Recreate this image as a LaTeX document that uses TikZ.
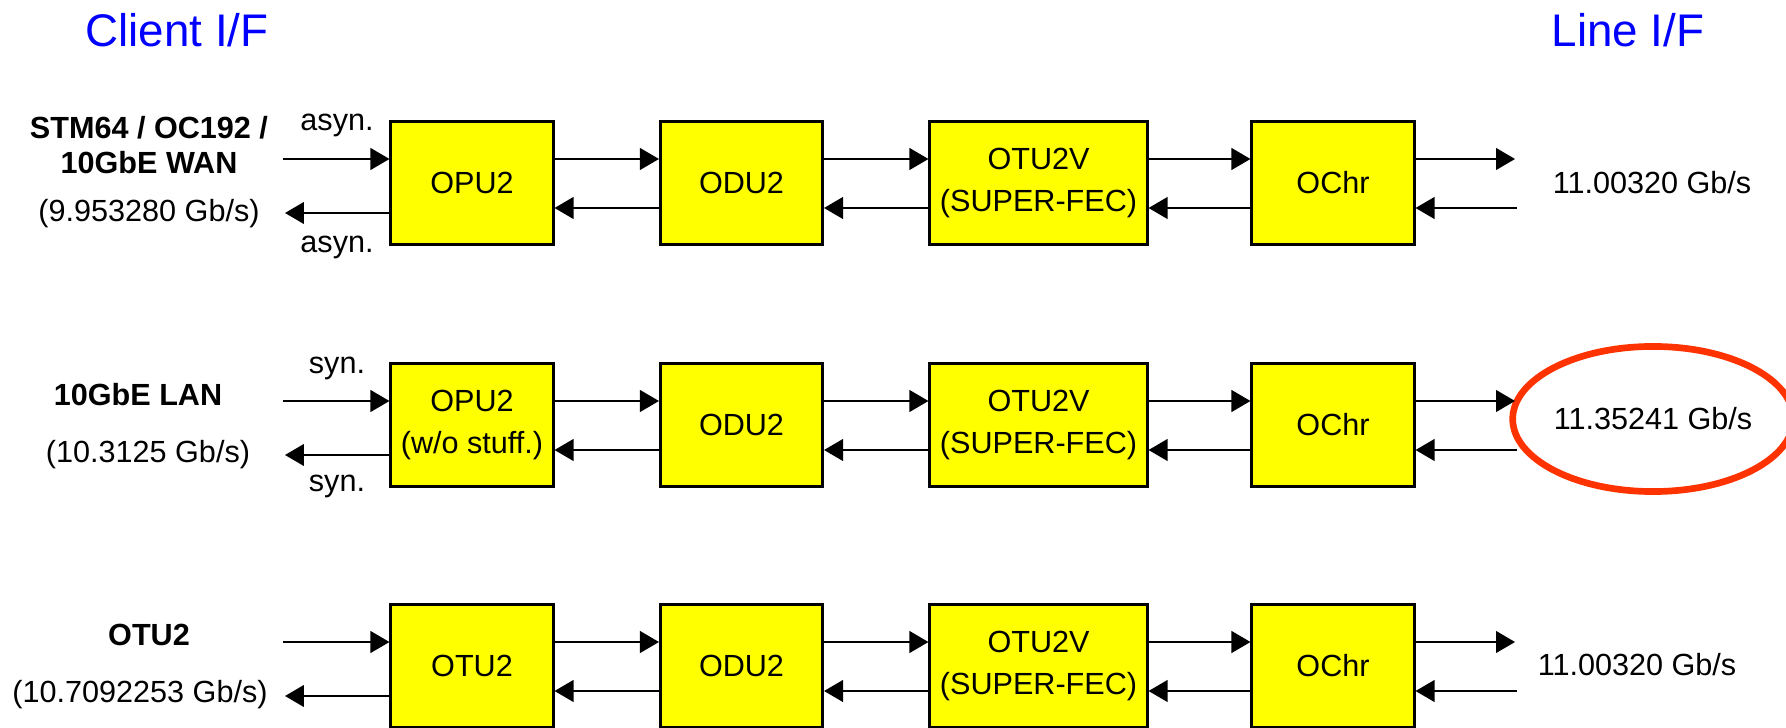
\documentclass[tikz,border=0pt]{standalone}
\usepackage{fontspec}
\setmainfont{Liberation Sans}
\usepackage{tikz}
\usetikzlibrary{arrows.meta,positioning,calc,shapes.geometric}
\definecolor{ifBlue}{RGB}{0,0,255}
\definecolor{blockYellow}{RGB}{255,255,0}
\definecolor{markRed}{RGB}{255,51,0}
\tikzset{
  blk/.style={draw=black, fill=blockYellow, line width=0.85pt,
              minimum width=1.62cm, minimum height=1.22cm, inner sep=0pt,
              align=center, font=\fontsize{8.7}{11.7}\selectfont},
  wideblk/.style={blk, minimum width=2.17cm},
  rate/.style={inner sep=0pt, align=center, font=\fontsize{8.7}{10.5}\selectfont},
  client/.style={inner sep=0pt, align=center, font=\fontsize{8.7}{9.8}\selectfont\bfseries},
  iftitle/.style={inner sep=0pt, text=ifBlue, font=\fontsize{13}{15}\selectfont},
  flow/.style={-{Triangle[length=5.4pt,width=6.2pt]}, line width=0.45pt, draw=black}
}
\begin{document}
\begin{tikzpicture}[x=0.01cm, y=-0.01cm]
  \useasboundingbox (0,0) rectangle (1786,728);
  % Interface titles
  \node[iftitle] (client) at (177,30) {Client I/F};
  \node[iftitle] (line) at (1628,30) {Line I/F};

  % Row 1: STM64 / OC192 / 10GbE WAN
  \node[blk] (opuA) at (472,183) {OPU2};
  \node[blk] (oduA) at (741.5,183) {ODU2};
  \node[wideblk] (otuA) at (1038.5,183) {OTU2V\\(SUPER-FEC)};
  \node[blk] (ochA) at (1333,183) {OChr};
  \node[client] (cliA) at (149,145) {STM64 / OC192 /\\10GbE WAN};
  \node[rate] (rateA) at (149,214) {(9.953280 Gb/s)};
  \node[rate] (asynI) at (337,125) {asyn.};
  \node[rate] (asynO) at (337,247) {asyn.};
  \node[rate] (lineA) at (1652,183) {11.00320 Gb/s};
  \coordinate (inA) at (283,159);
  \coordinate (outA) at (285,213);
  \coordinate (txA) at (1515,159);
  \coordinate (rxA) at (1517,208);
  \draw[flow] (inA) -- (inA -| opuA.west);
  \draw[flow] (opuA.west |- outA) -- (outA);
  \draw[flow] (opuA.east |- inA) -- (oduA.west |- inA);
  \draw[flow] (oduA.east |- inA) -- (otuA.west |- inA);
  \draw[flow] (otuA.east |- inA) -- (ochA.west |- inA);
  \draw[flow] (ochA.east |- inA) -- (txA);
  \draw[flow] (rxA) -- (ochA.east |- rxA);
  \draw[flow] (ochA.west |- rxA) -- (otuA.east |- rxA);
  \draw[flow] (otuA.west |- rxA) -- (oduA.east |- rxA);
  \draw[flow] (oduA.west |- rxA) -- (opuA.east |- rxA);

  % Row 2: 10GbE LAN
  \node[blk] (opuB) at (472,425) {OPU2\\(w/o stuff.)};
  \node[blk] (oduB) at (741.5,425) {ODU2};
  \node[wideblk] (otuB) at (1038.5,425) {OTU2V\\(SUPER-FEC)};
  \node[blk] (ochB) at (1333,425) {OChr};
  \node[client] (cliB) at (138,395) {10GbE LAN};
  \node[rate] (rateB) at (148,455) {(10.3125 Gb/s)};
  \node[rate] (synI) at (337,368) {syn.};
  \node[rate] (synO) at (337,486) {syn.};
  \node[rate, ellipse, draw=markRed, line width=1.9pt,
        minimum width=2.57cm, minimum height=1.45cm] (lineB) at (1653,419) {11.35241 Gb/s};
  \coordinate (inB) at (283,401);
  \coordinate (outB) at (285,455);
  \coordinate (txB) at (1515,401);
  \coordinate (rxB) at (1517,450);
  \draw[flow] (inB) -- (inB -| opuB.west);
  \draw[flow] (opuB.west |- outB) -- (outB);
  \draw[flow] (opuB.east |- inB) -- (oduB.west |- inB);
  \draw[flow] (oduB.east |- inB) -- (otuB.west |- inB);
  \draw[flow] (otuB.east |- inB) -- (ochB.west |- inB);
  \draw[flow] (ochB.east |- inB) -- (txB);
  \draw[flow] (rxB) -- (ochB.east |- rxB);
  \draw[flow] (ochB.west |- rxB) -- (otuB.east |- rxB);
  \draw[flow] (otuB.west |- rxB) -- (oduB.east |- rxB);
  \draw[flow] (oduB.west |- rxB) -- (opuB.east |- rxB);

  % Row 3: OTU2
  \node[blk] (opuC) at (472,666) {OTU2};
  \node[blk] (oduC) at (741.5,666) {ODU2};
  \node[wideblk] (otuC) at (1038.5,666) {OTU2V\\(SUPER-FEC)};
  \node[blk] (ochC) at (1333,666) {OChr};
  \node[client] (cliC) at (149,635) {OTU2};
  \node[rate] (rateC) at (140,695) {(10.7092253 Gb/s)};
  \node[rate] (lineC) at (1637,665) {11.00320 Gb/s};
  \coordinate (inC) at (283,642);
  \coordinate (outC) at (285,696);
  \coordinate (txC) at (1515,642);
  \coordinate (rxC) at (1517,691);
  \draw[flow] (inC) -- (inC -| opuC.west);
  \draw[flow] (opuC.west |- outC) -- (outC);
  \draw[flow] (opuC.east |- inC) -- (oduC.west |- inC);
  \draw[flow] (oduC.east |- inC) -- (otuC.west |- inC);
  \draw[flow] (otuC.east |- inC) -- (ochC.west |- inC);
  \draw[flow] (ochC.east |- inC) -- (txC);
  \draw[flow] (rxC) -- (ochC.east |- rxC);
  \draw[flow] (ochC.west |- rxC) -- (otuC.east |- rxC);
  \draw[flow] (otuC.west |- rxC) -- (oduC.east |- rxC);
  \draw[flow] (oduC.west |- rxC) -- (opuC.east |- rxC);
\end{tikzpicture}
\end{document}
